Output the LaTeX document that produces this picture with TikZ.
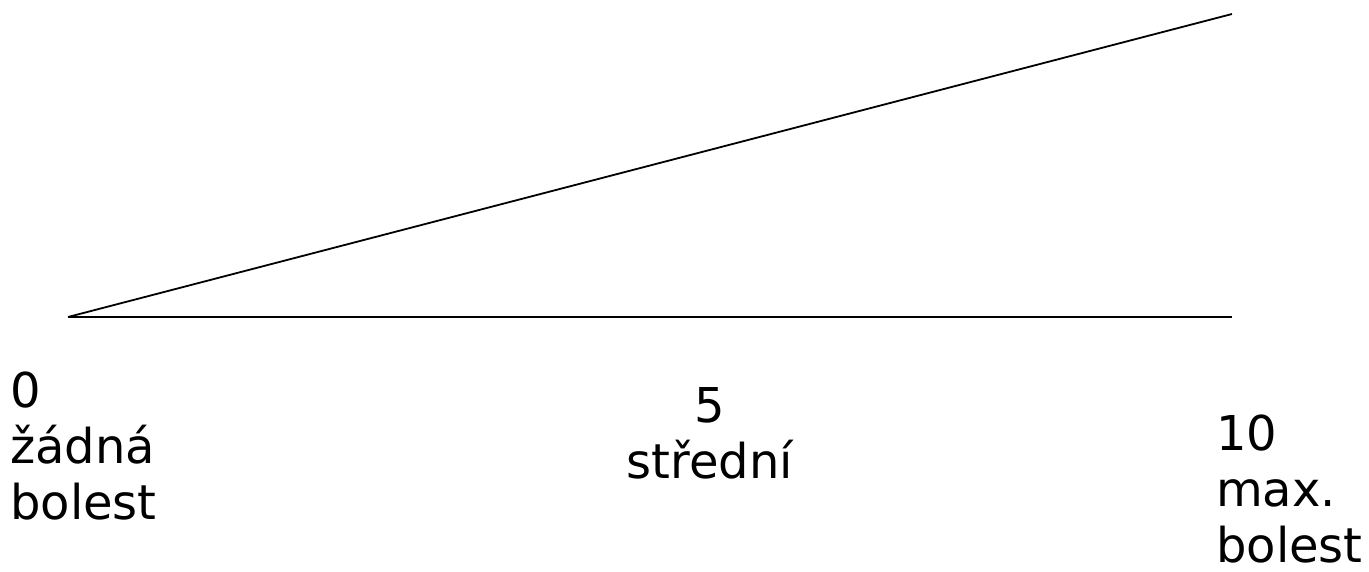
\documentclass[tikz,border=0pt]{standalone}
\usepackage{fontspec}
\setmainfont{DejaVu Sans}
\usepackage{tikz}
\usetikzlibrary{positioning}

\begin{document}
\begin{tikzpicture}[
      x=1pt, y=-1pt,
      scaleline/.style={
         draw=black,
         line width=1.8pt},
      scaletext/.style={
         inner sep=0pt,
         font=\fontsize{48}{56}\selectfont}
      ]
      \useasboundingbox (0,0) rectangle (1369,571);

      \coordinate (c0) at (68,317);
      \coordinate (ctop) at (1232,14);
      \coordinate (cend) at (1232,317);

      \draw [scaleline] (c0) -- (ctop);
      \draw [scaleline] (c0) -- (cend);

    \foreach \n/\x/\y/\a/\al/\txt in {% name/x/y/anchor/align/text
      t0/10/372/north west/left/{0\\žádná\\bolest},
      t5/710/387/north/center/{5\\střední},
      t10/1216/415/north west/left/{10\\max.\\bolest}}
       \node[scaletext, anchor=\a, align=\al] (\n) at (\x,\y) {\txt};
    \end{tikzpicture}
\end{document}
